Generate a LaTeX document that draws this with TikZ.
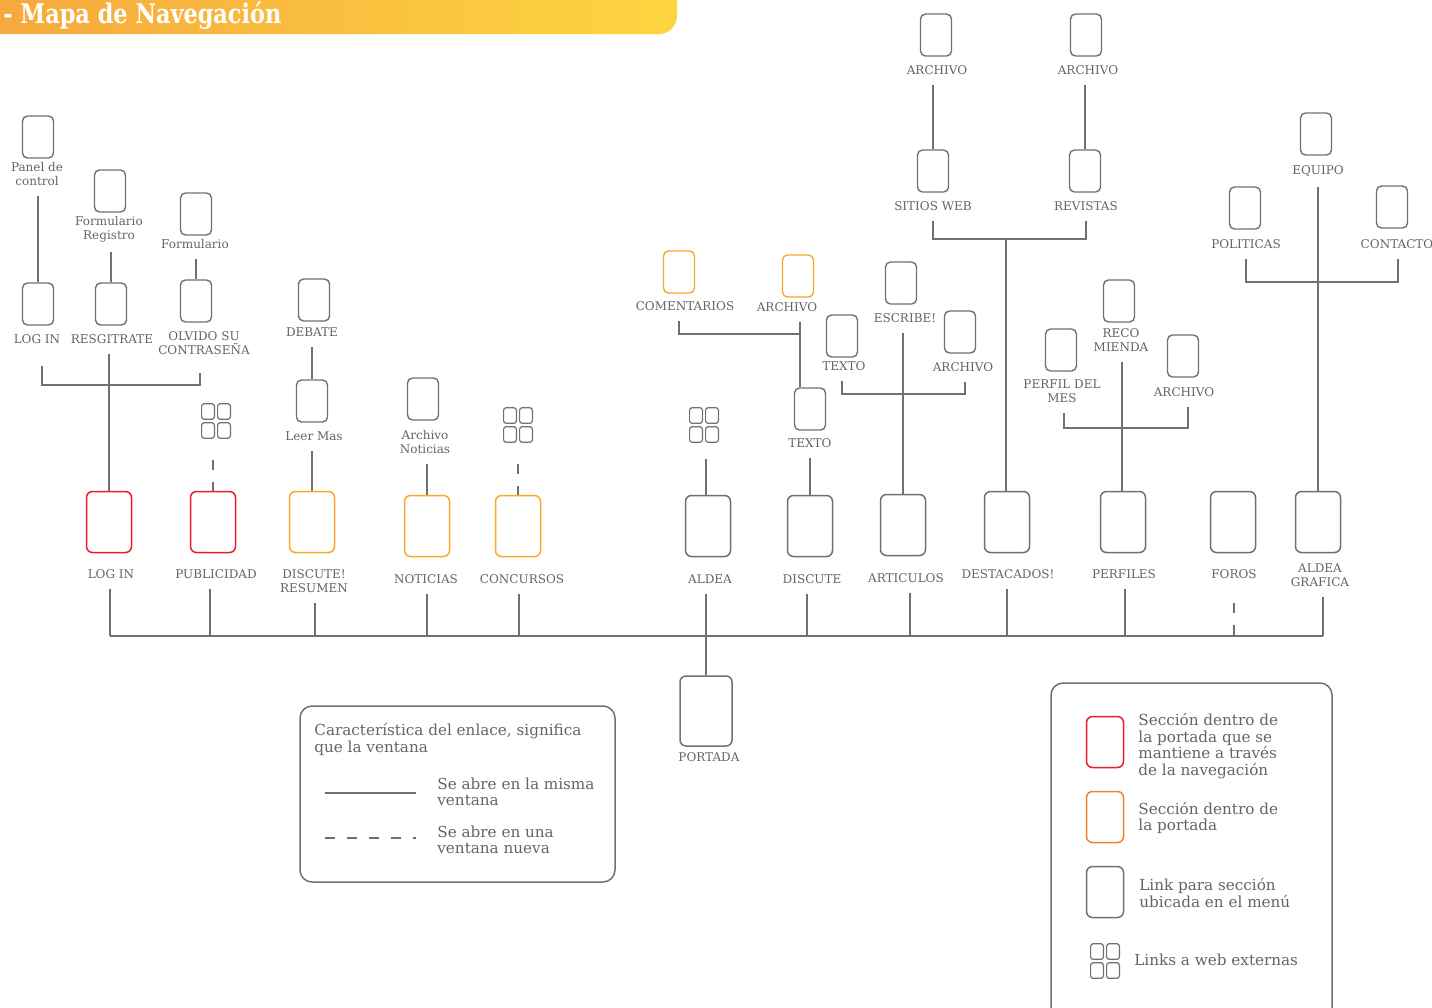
\documentclass[tikz,border=0pt]{standalone}
\usepackage{graphicx}
\usepackage{fontspec}
\setmainfont{DejaVu Serif}
\definecolor{mpgray}{RGB}{112,112,112}
\definecolor{mptext}{RGB}{100,100,100}
\definecolor{mpred}{RGB}{236,28,36}
\definecolor{mporange}{RGB}{248,168,42}
\definecolor{mplegorange}{RGB}{245,128,40}
\definecolor{mptitleA}{RGB}{246,168,62}
\definecolor{mptitleB}{RGB}{253,213,64}
\tikzset{
  menubox/.style={draw=mpgray,line width=0.75pt,rounded corners=3pt,
                  minimum width=22.5pt,minimum height=30.5pt,inner sep=0pt},
  secbox/.style={menubox,draw=mporange},
  fixbox/.style={menubox,draw=mpred},
  subbox/.style={draw=mpgray,line width=0.7pt,rounded corners=2.5pt,
                 minimum width=15.5pt,minimum height=21pt,inner sep=0pt},
  subsec/.style={subbox,draw=mporange},
  lbl/.style={font=\fontsize{6}{7}\selectfont,text=mptext,align=center,
              inner xsep=0pt,inner ysep=5pt},
  link/.style={draw=mpgray,line width=0.6pt},
  newwin/.style={link,dash pattern=on 5pt off 6pt},
  extlinks/.style={minimum width=16pt,minimum height=19pt,inner sep=0pt,
    path picture={
      \foreach \dx/\dy in {-4/-4.75,4/-4.75,-4/4.75,4/4.75}
        \draw[draw=mpgray,line width=0.6pt,rounded corners=1.3pt]
          ([shift={(\dx pt-3.2pt,\dy pt-3.9pt)}]path picture bounding box.center)
          rectangle ++(6.4pt,7.8pt);
    }},
  legbox/.style={draw=mpgray,line width=0.75pt,rounded corners=6pt,inner sep=0pt},
  legtxt/.style={font=\fontsize{7.6}{8.2}\selectfont,text=mptext,align=left,
                 anchor=west,inner sep=0pt},
}

\begin{document}
\begin{tikzpicture}[x=0.5pt,y=-0.5pt]
  \useasboundingbox (0,0) rectangle (1432,1008);
  %% Title bar
  \shade[left color=mptitleA,right color=mptitleB,rounded corners=9pt]
        (-20,-20) rectangle (677,34);
  \node[anchor=west,text=white,inner xsep=0pt,font=\fontsize{13.5}{13.5}\selectfont\bfseries]
        (title) at (3,16) {\scalebox{0.83}[1]{- Mapa de Navegación}};
  %% Main row
  \node[fixbox]  (login)      at (109,522)  {};
  \node[lbl]     (login-l)    at (111,574)  {LOG IN};
  \node[fixbox]  (publi)      at (213,522)  {};
  \node[lbl]     (publi-l)    at (216,574)  {PUBLICIDAD};
  \node[secbox]  (discres)    at (312,522)  {};
  \node[lbl]     (discres-l)  at (314,581)  {DISCUTE!\\RESUMEN};
  \node[secbox]  (noticias)   at (427,526)  {};
  \node[lbl]     (noticias-l) at (426,579)  {NOTICIAS};
  \node[secbox]  (concursos)  at (518,526)  {};
  \node[lbl]     (concursos-l) at (522,579) {CONCURSOS};
  \node[menubox] (aldea)      at (708,526)  {};
  \node[lbl]     (aldea-l)    at (710,579)  {ALDEA};
  \node[menubox] (discute)    at (810,526)  {};
  \node[lbl]     (discute-l)  at (812,579)  {DISCUTE};
  \node[menubox] (articulos)  at (903,525)  {};
  \node[lbl]     (articulos-l) at (906,578) {ARTICULOS};
  \node[menubox] (destacados) at (1007,522) {};
  \node[lbl]     (destacados-l) at (1008,574) {DESTACADOS!};
  \node[menubox] (perfiles)   at (1123,522) {};
  \node[lbl]     (perfiles-l) at (1124,574) {PERFILES};
  \node[menubox] (foros)      at (1233,522) {};
  \node[lbl]     (foros-l)    at (1234,574) {FOROS};
  \node[menubox] (aldeag)     at (1318,522) {};
  \node[lbl]     (aldeag-l)   at (1320,575) {ALDEA\\GRAFICA};
  \node[menubox,minimum width=26pt,minimum height=35pt] (portada) at (706,711) {};
  \node[lbl]     (portada-l)  at (709,757)  {PORTADA};
  %% Bus to portada
  \coordinate (bus) at (0,636);
  \foreach \n/\s in {login/-0.5,publi/-3,discres/0.5,noticias/0.5,concursos/-1.5,
                     discute/-2.5,articulos/2,destacados/-0.5,perfiles/0.5,aldeag/1.5}
    \draw[link] ([xshift=\s pt]\n-l.south) -- ([xshift=\s pt]\n-l.south |- bus);
  \draw[newwin,shorten <=7pt] (foros-l.south) -- (foros-l.south |- bus);
  \draw[link] ([xshift=-0.5pt]login-l.south |- bus) -- ([xshift=1.5pt]aldeag-l.south |- bus);
  \draw[link] (aldea-l.south -| portada.north) -- (portada.north);
  %% Log in branch
  \node[subbox] (panel)     at (38,137)  {};
  \node[lbl]    (panel-l)   at (37,174)  {Panel de\\control};
  \node[subbox] (acceso)    at (38,304)  {};
  \node[lbl]    (acceso-l)  at (37,339)  {LOG IN};
  \node[subbox] (formreg)   at (110,191) {};
  \node[lbl]    (formreg-l) at (109,229) {Formulario\\Registro};
  \node[subbox] (resg)      at (111,304) {};
  \node[lbl]    (resg-l)    at (112,339) {RESGITRATE};
  \node[subbox] (form)      at (196,214) {};
  \node[lbl]    (form-l)    at (195,244) {Formulario};
  \node[subbox] (olvido)    at (196,301) {};
  \node[lbl]    (olvido-l)  at (204,343) {OLVIDO SU\\CONTRASEÑA};
  \coordinate (b1) at (109,385);
  \draw[link] (panel-l.south -| acceso.north) -- (acceso.north);
  \draw[link] (formreg-l.south -| resg.north) -- (resg.north);
  \draw[link] (form-l.south -| olvido.north) -- (olvido.north);
  \draw[link,shorten <=6pt,shorten >=4pt]
        ([xshift=2.5pt]acceso-l.south) |- (b1) -| ([xshift=-2pt]olvido-l.south);
  \draw[link] (resg-l.south -| login.north) -- (login.north);
  %% Publicidad, Discute, Noticias, Concursos
  \node[extlinks] (extpub)    at (216,421) {};
  \draw[newwin,shorten <=10pt] (extpub.south -| publi.north) -- (publi.north);
  \node[subbox] (debate)      at (314,300) {};
  \node[lbl]    (debate-l)    at (312,332) {DEBATE};
  \node[subbox] (leer)        at (312,401) {};
  \node[lbl]    (leer-l)      at (314,436) {Leer Mas};
  \draw[link] (debate-l.south -| leer.north) -- (leer.north);
  \draw[link] (leer-l.south -| discres.north) -- (discres.north);
  \node[subbox] (archnot)     at (423,399) {};
  \node[lbl]    (archnot-l)   at (425,442) {Archivo\\Noticias};
  \draw[link] (archnot-l.south -| noticias.north) -- (noticias.north);
  \node[extlinks] (extcon)    at (518,425) {};
  \draw[newwin,shorten <=10pt] (extcon.south -| concursos.north) -- (concursos.north);
  %% Aldea, Discute
  \node[extlinks] (extaldea)  at (704,425) {};
  \draw[link,shorten <=7.5pt] (extaldea.south -| portada.north) -- (portada.north |- aldea.north);
  \node[subsec] (coment)      at (679,272) {};
  \node[lbl]    (coment-l)    at (685,306) {COMENTARIOS};
  \node[subsec] (archcom)     at (798,276) {};
  \node[lbl]    (archcom-l)   at (787,307) {ARCHIVO};
  \node[subbox] (textob)      at (810,409) {};
  \node[lbl]    (textob-l)    at (810,443) {TEXTO};
  \coordinate (b2) at (800,334);
  \draw[link] (coment-l.south -| coment.south) |- (b2);
  \draw[link] (archcom-l.south -| b2) -- (b2 |- textob.north);
  \draw[link] (textob-l.south -| discute.north) -- (discute.north);
  %% Articulos
  \node[subbox] (escribe)     at (901,283) {};
  \node[lbl]    (escribe-l)   at (905,318) {ESCRIBE!};
  \node[subbox] (textoa)      at (842,336) {};
  \node[lbl]    (textoa-l)    at (844,366) {TEXTO};
  \node[subbox] (archart)     at (960,332) {};
  \node[lbl]    (archart-l)   at (963,367) {ARCHIVO};
  \coordinate (b3) at (903,394);
  \draw[link] (textoa-l.south -| textoa.south) |- (b3) -| ([xshift=1pt]archart-l.south);
  \draw[link] (escribe-l.south -| articulos.north) -- (articulos.north);
  %% Destacados
  \node[subbox] (archsit)     at (936,35)   {};
  \node[lbl]    (archsit-l)   at (937,70)   {ARCHIVO};
  \node[subbox] (sitios)      at (933,171)  {};
  \node[lbl]    (sitios-l)    at (933,206)  {SITIOS WEB};
  \node[subbox] (archrev)     at (1086,35)  {};
  \node[lbl]    (archrev-l)   at (1088,70)  {ARCHIVO};
  \node[subbox] (revistas)    at (1085,171) {};
  \node[lbl]    (revistas-l)  at (1086,206) {REVISTAS};
  \coordinate (b4) at (1006,239);
  \draw[link] (archsit-l.south -| sitios.north) -- (sitios.north);
  \draw[link] (archrev-l.south -| revistas.north) -- (revistas.north);
  \draw[link] (sitios-l.south) |- (b4) -| (revistas-l.south);
  \draw[link] (b4) -- (b4 |- destacados.north);
  %% Perfiles
  \node[subbox] (reco)        at (1119,301) {};
  \node[lbl]    (reco-l)      at (1121,340) {RECO\\MIENDA};
  \node[subbox] (perfmes)     at (1061,350) {};
  \node[lbl]    (perfmes-l)   at (1062,391) {PERFIL DEL\\MES};
  \node[subbox] (archper)     at (1183,356) {};
  \node[lbl]    (archper-l)   at (1184,392) {ARCHIVO};
  \coordinate (b5) at (1122,428);
  \draw[link] ([xshift=1pt]perfmes-l.south) |- (b5) -| ([xshift=2pt]archper-l.south);
  \draw[link] (reco-l.south -| b5) -- (b5 |- perfiles.north);
  %% Aldea grafica
  \node[subbox] (equipo)      at (1316,134) {};
  \node[lbl]    (equipo-l)    at (1318,171) {EQUIPO};
  \node[subbox] (politicas)   at (1245,208) {};
  \node[lbl]    (politicas-l) at (1246,244) {POLITICAS};
  \node[subbox] (contacto)    at (1392,207) {};
  \node[lbl]    (contacto-l)  at (1397,244) {CONTACTO};
  \coordinate (b6) at (1318,282);
  \draw[link] (politicas-l.south) |- (b6) -| ([xshift=0.5pt]contacto-l.south);
  \draw[link] (equipo-l.south -| b6) -- (b6 |- aldeag.north);
  %% Legend: links
  \node[legbox,minimum width=157.5pt,minimum height=88pt] (leg1) at (457.5,794) {};
  \node[legtxt] (leg1-t) at (314,739.5) {Característica del enlace, significa\\que la ventana};
  \coordinate (same-a) at (325,793);
  \coordinate (same-b) at (416,793);
  \draw[link] (same-a) -- (same-b);
  \node[legtxt] (same-t) at (437,792) {Se abre en la misma\\ventana};
  \coordinate (new-a) at (325,838);
  \coordinate (new-b) at (416,838);
  \draw[newwin] (new-a) -- (new-b);
  \node[legtxt] (new-t) at (437,840) {Se abre en una\\ventana nueva};
  %% Legend: boxes
  \node[legbox,minimum width=140.5pt,minimum height=177pt] (leg2) at (1191.5,860) {};
  \node[fixbox,minimum width=18.5pt,minimum height=25.5pt] (key-fix) at (1105,742) {};
  \node[legtxt] (key-fix-t) at (1138,746) {Sección dentro de\\la portada que se\\mantiene a través\\de la navegación};
  \node[menubox,draw=mplegorange,minimum width=18.5pt,minimum height=25.5pt] (key-sec) at (1105,817) {};
  \node[legtxt] (key-sec-t) at (1138,818) {Sección dentro de\\la portada};
  \node[menubox,minimum width=18.5pt,minimum height=25.5pt] (key-menu) at (1105,892) {};
  \node[legtxt] (key-menu-t) at (1139,893) {Link para sección\\ubicada en el menú};
  \node[extlinks] (key-ext) at (1105,961) {};
  \node[legtxt] (key-ext-t) at (1134,960) {Links a web externas};
\end{tikzpicture}
\end{document}
